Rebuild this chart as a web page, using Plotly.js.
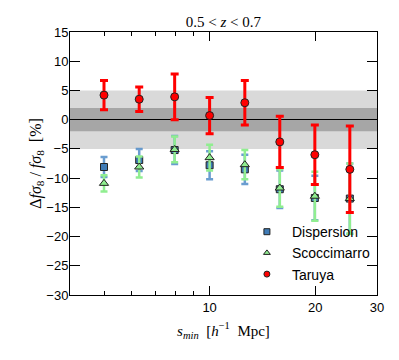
<!DOCTYPE html>
<html>
<head>
<meta charset="utf-8">
<script src="https://cdn.plot.ly/plotly-3.0.1.min.js"></script>
<style>
  body { margin: 0; background: white; }
  #graph { width: 399px; height: 360px; }
</style>
</head>
<body>
<div id="graph"></div>
<script>
// s_min values (h^-1 Mpc)
var s_min = [5.0, 6.3, 7.95, 10.0, 12.6, 15.85, 19.95, 25.1]

// Delta f sigma8 / f sigma8 [%] and errors
var disp_y   = [-8.1, -6.9, -5.2, -7.8, -8.5, -11.9, -13.4, -13.5]
var disp_err = [1.7, 1.9, 2.4, 2.4, 2.5, 3.2, 3.8, 6.0]
var scoc_y   = [-10.9, -8.1, -5.1, -6.5, -7.7, -11.7, -13.1, -13.5]
var scoc_err = [1.4, 1.8, 2.2, 2.2, 2.5, 3.2, 4.2, 6.0]
var tar_y    = [4.2, 3.5, 3.9, 0.7, 2.9, -3.8, -6.0, -8.5]
var tar_err  = [2.5, 2.1, 3.9, 3.1, 3.8, 4.4, 5.1, 7.4]

// reference bands
var band_outer = [-5, 5]
var band_inner = [-2, 2]

// ticks
var x_major = [10, 20, 30]
var x_major_text = ['10', '20', '30']
var x_minor = [5, 6, 7, 8, 9]

var blue = '#3f7bb6', green = '#90ee90', red = '#ff0000'

function pts(name, y, err, sym, fill, size, barcol, thick, cap){
  return {
    x: s_min, y: y, name: name, type: 'scatter', mode: 'markers',
    showlegend: false,
    marker: {symbol: sym, color: fill, size: size, line: {color: '#222', width: 1}},
    error_y: {type: 'data', array: err, visible: true, color: barcol, thickness: thick, width: cap}
  }
}
function leg(name, sym, fill){
  return {
    x: [null], y: [null], name: name, type: 'scatter', mode: 'markers',
    marker: {symbol: sym, color: fill, size: 6, line: {color: '#222', width: 1}}
  }
}

var traces = [
  pts('Dispersion', disp_y, disp_err, 'square', blue, 7, 'rgba(80,140,200,0.85)', 2.5, 3.5),
  pts('Scoccimarro', scoc_y, scoc_err, 'triangle-up', green, 8, green, 2.5, 3.5),
  pts('Taruya', tar_y, tar_err, 'circle', red, 8, red, 3, 4),
  leg('Dispersion', 'square', blue),
  leg('Scoccimarro', 'triangle-up', green),
  leg('Taruya', 'circle', red)
]

var layout = {
  width: 399, height: 360,
  margin: {l: 70, r: 22, t: 32, b: 65},
  paper_bgcolor: 'white', plot_bgcolor: 'white',
  font: {family: 'Liberation Sans, Arial, sans-serif', size: 13, color: 'black'},
  title: {
    text: '0.5 &lt; <i>z</i> &lt; 0.7',
    font: {family: 'Liberation Serif, serif', size: 15, color: 'black'},
    x: 0.56, xanchor: 'center', y: 1 - 22/360, yanchor: 'middle'
  },
  showlegend: true,
  legend: {
    x: 0.56, y: 0.30, xanchor: 'left', yanchor: 'top',
    itemwidth: 40,
    bgcolor: 'rgba(0,0,0,0)', borderwidth: 0,
    font: {family: 'Liberation Sans, Arial, sans-serif', size: 14, color: 'black'}
  },
  xaxis: {
    type: 'log',
    range: [Math.log10(4), Math.log10(30)],
    tickmode: 'array', tickvals: x_major, ticktext: x_major_text,
    ticks: 'inside', ticklen: 9, tickcolor: 'black', tickwidth: 1,
    minor: {tickmode: 'array', tickvals: x_minor, ticks: 'inside', ticklen: 4, tickcolor: 'black', showgrid: false},
    showline: true, linecolor: 'black', linewidth: 1, mirror: 'ticks',
    showgrid: false, zeroline: false,
    title: {
      text: '<i>s<sub>min</sub></i>  [<i>h</i><sup>−1</sup>  Mpc]',
      font: {family: 'Liberation Serif, serif', size: 15, color: 'black'},
      standoff: 11
    }
  },
  yaxis: {
    range: [-30, 15],
    tickmode: 'linear', tick0: -30, dtick: 5,
    ticks: 'inside', ticklen: 10, tickcolor: 'black', tickwidth: 1,
    ticklabelstandoff: -2,
    showline: true, linecolor: 'black', linewidth: 1, mirror: 'ticks',
    showgrid: false,
    zeroline: true, zerolinecolor: 'black', zerolinewidth: 1.2,
    title: {
      text: 'Δ<i>fσ</i><sub>8</sub> / <i>fσ</i><sub>8</sub>  [%]',
      font: {family: 'Liberation Serif, serif', size: 16, color: 'black'},
      standoff: 0
    }
  },
  shapes: [
    {type: 'rect', xref: 'paper', yref: 'y', x0: 0, x1: 1, y0: band_outer[0], y1: band_outer[1],
     fillcolor: '#d9d9d9', line: {width: 0}, layer: 'below'},
    {type: 'rect', xref: 'paper', yref: 'y', x0: 0, x1: 1, y0: band_inner[0], y1: band_inner[1],
     fillcolor: '#a6a6a6', line: {width: 0}, layer: 'below'}
  ]
}

Plotly.newPlot('graph', traces, layout, {displayModeBar: false, staticPlot: true})
</script>
</body>
</html>
